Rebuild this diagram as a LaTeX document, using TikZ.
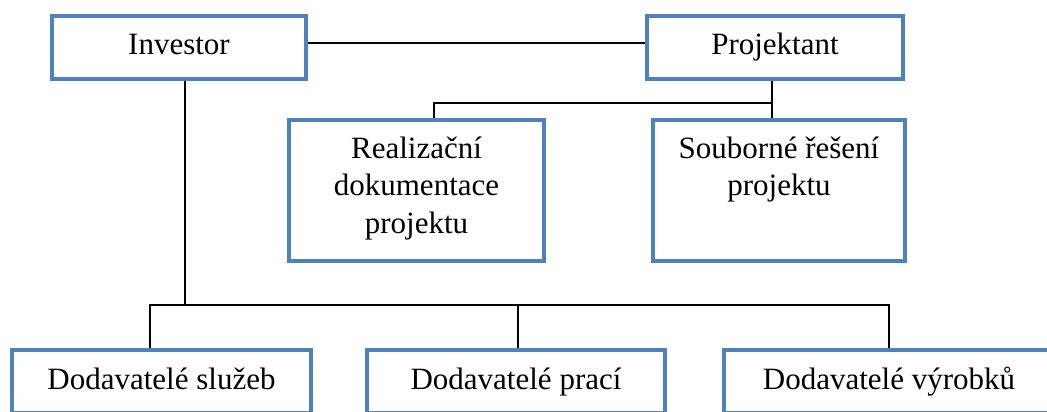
\documentclass[tikz,border=0pt]{standalone}
\usepackage{fontspec}
\setmainfont{Liberation Serif}
\definecolor{boxblue}{HTML}{4F81BD}
\begin{document}
\begin{tikzpicture}[x=1pt,y=-1pt,
  box/.style={draw=boxblue,line width=3.5pt,rectangle,inner sep=0pt,align=center,
    font=\fontsize{31}{37.5}\selectfont,execute at begin node=\strut},
  link/.style={draw=black,line width=1.6pt}]
\useasboundingbox (0,0) rectangle (1047,412);
\clip (0,0) rectangle (1047,412);

% top row
\node[box,minimum width=254pt,minimum height=63pt] (inv) at (179,47.5) {Investor};
\node[box,minimum width=256pt,minimum height=63pt] (proj) at (775,47.5) {Projektant};

% project documents
\node[box,minimum width=255pt,minimum height=141pt] (real) at (416.5,190.5)
  {Realizační\\dokumentace\\projektu};
\node[box,minimum width=252pt,minimum height=141pt] (soub) at (779,190.5)
  {Souborné řešení\\projektu\\\strut};

% suppliers
\node[box,minimum width=299pt,minimum height=63pt] (sluz) at (161.5,381.5) {Dodavatelé služeb};
\node[box,minimum width=298pt,minimum height=63pt] (prac) at (516,381.5) {Dodavatelé prací};
\node[box,minimum width=330pt,minimum height=63pt] (vyr) at (889,381.5) {Dodavatelé výrobků};

% junction points
\coordinate (ipy) at (0,43);
\coordinate (invx) at (185,0);
\coordinate (projx) at (772,0);
\coordinate (pbus) at (434,103);
\coordinate (bus) at (0,305);
\coordinate (d1) at (150,0);
\coordinate (d2) at (518,0);
\coordinate (d3) at (889,0);

% investor -- projektant
\draw[link] (inv.east |- ipy) -- (proj.west |- ipy);

% projektant branch
\draw[link] (proj.south -| projx) -- (soub.north -| projx);
\draw[link] (pbus -| projx) -- (pbus) -- (real.north -| pbus);

% investor branch to suppliers
\draw[link] (inv.south -| invx) -- (bus -| invx);
\draw[link] (sluz.north -| d1) -- (bus -| d1) -- (bus -| d3) -- (vyr.north -| d3);
\draw[link] (bus -| d2) -- (prac.north -| d2);
\end{tikzpicture}
\end{document}
